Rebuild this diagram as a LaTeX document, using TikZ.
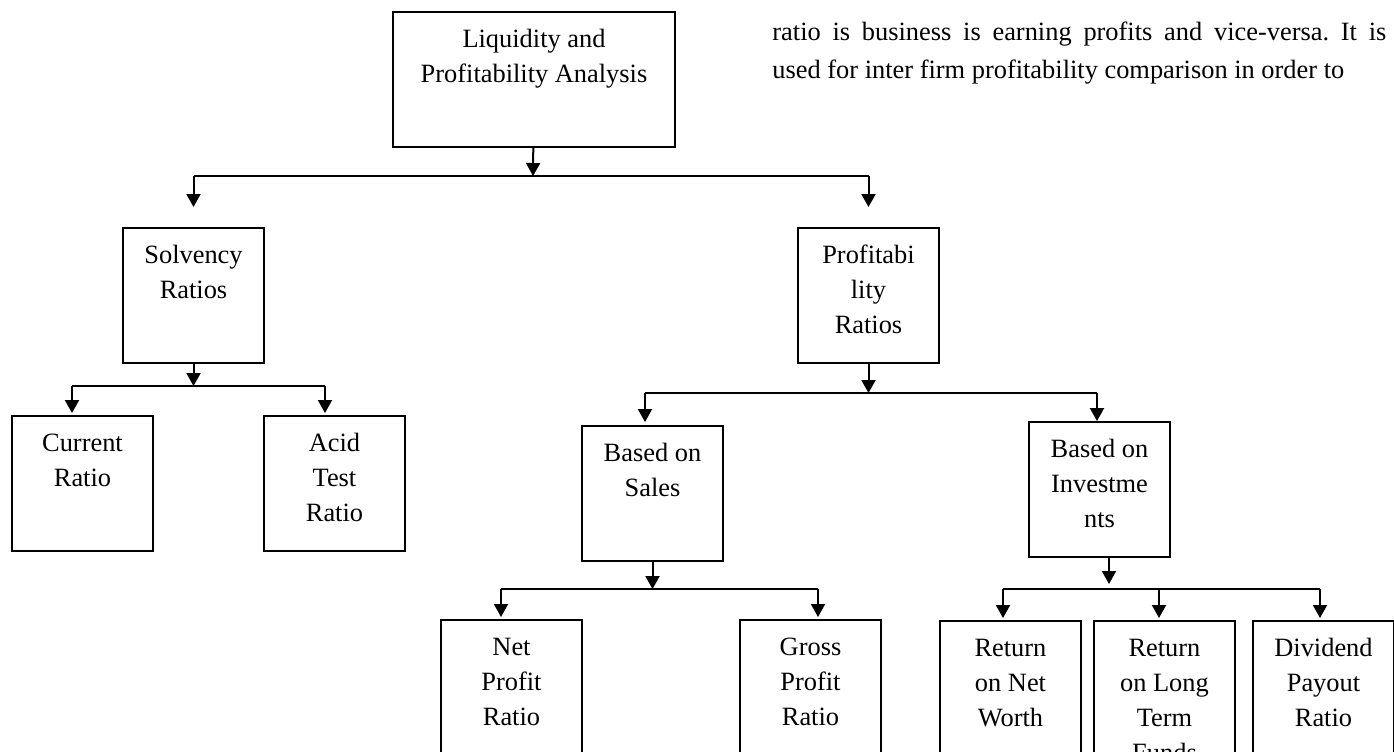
\documentclass[tikz,border=0pt]{standalone}
\usepackage{fontspec}
\setmainfont{Liberation Serif}
\usetikzlibrary{arrows.meta}
\frenchspacing
\begin{document}
\begin{tikzpicture}[x=0.5pt,y=-0.5pt]
	\tikzstyle{box}=[draw,line width=1pt,anchor=north west,inner sep=0pt,text width=70.5pt,align=flush center,text height=17.5pt,text depth=50pt,font=\fontsize{13.2}{17.6}\selectfont]
	\tikzstyle{arr}=[line width=1pt,-{Triangle[width=7pt,length=6.5pt]}]
	\tikzstyle{para}=[anchor=base west,inner sep=0pt,font=\fontsize{13.2}{16}\selectfont]
	\useasboundingbox (0,0) rectangle (1394,751);
	% boxes
	\node[box,text width=141pt] (top) at (392,11) {Liquidity and\\Profitability Analysis};
	\node[box] (solv) at (122,227) {Solvency\\Ratios};
	\node[box] (prof) at (797,227) {Profitabi\\lity\\Ratios};
	\node[box] (cur) at (11,415) {Current\\Ratio};
	\node[box] (acid) at (263,415) {Acid\\Test\\Ratio};
	\node[box] (sales) at (581,425) {Based on\\Sales};
	\node[box] (inv) at (1028,421) {Based on\\Investme\\nts};
	\node[box] (net) at (440,619) {Net\\Profit\\Ratio};
	\node[box] (gross) at (739,619) {Gross\\Profit\\Ratio};
	\node[box] (rnw) at (939,620) {Return\\on Net\\Worth};
	\node[box] (rlt) at (1093,620) {Return\\on Long\\Term\\Funds};
	\node[box] (div) at (1252,620) {Dividend\\Payout\\Ratio};
	% text beside the chart
	\node[para] (txt1) at (772,40) {\makebox[307pt][s]{ratio is business is earning profits and vice-versa. It is}};
	\node[para] (txt2) at (772,78) {used for inter firm profitability comparison in order to};
	% forks
	\coordinate (f1) at (533,176);
	\coordinate (f2) at (192,386);
	\coordinate (f3) at (866,393);
	\coordinate (f4) at (653,589);
	\coordinate (f5) at (1109,589);
	\coordinate (d21) at (72,386);
	\coordinate (d22) at (325,386);
	\coordinate (d31) at (645,393);
	\coordinate (d32) at (1097,393);
	\coordinate (d41) at (501,589);
	\coordinate (d42) at (818,589);
	\coordinate (d51) at (1003,589);
	\coordinate (d52) at (1159,589);
	\coordinate (d53) at (1320,589);
	% level 1
	\draw[arr] (top) -- (f1);
	\draw[line width=1pt] (solv.north |- f1) -- (prof.north |- f1);
	\draw[arr] (solv.north |- f1) -- ([yshift=10pt]solv.north);
	\draw[arr] (prof.north |- f1) -- ([yshift=10pt]prof.north);
	% level 2
	\draw[arr] (solv) -- (solv |- f2);
	\draw[line width=1pt] (d21) -- (d22);
	\draw[arr] (d21) -- ([yshift=1pt]d21 |- cur.north);
	\draw[arr] (d22) -- ([yshift=1pt]d22 |- acid.north);
	\draw[arr] (prof) -- (prof |- f3);
	\draw[line width=1pt] (d31) -- (d32);
	\draw[arr] (d31) -- ([yshift=1.5pt]d31 |- sales.north);
	\draw[arr] (d32) -- (d32 |- inv.north);
	% level 3
	\draw[arr] (sales) -- (sales |- f4);
	\draw[line width=1pt] (d41) -- (d42);
	\draw[arr] (d41) -- ([yshift=1pt]d41 |- net.north);
	\draw[arr] (d42) -- ([yshift=1pt]d42 |- gross.north);
	\draw[arr] (inv.south -| f5) -- ([yshift=2.5pt]f5);
	\draw[line width=1pt] (d51) -- (d53);
	\draw[arr] (d51) -- ([yshift=1pt]d51 |- rnw.north);
	\draw[arr] (d52) -- ([yshift=1pt]d52 |- rlt.north);
	\draw[arr] (d53) -- ([yshift=1pt]d53 |- div.north);
\end{tikzpicture}
\end{document}
